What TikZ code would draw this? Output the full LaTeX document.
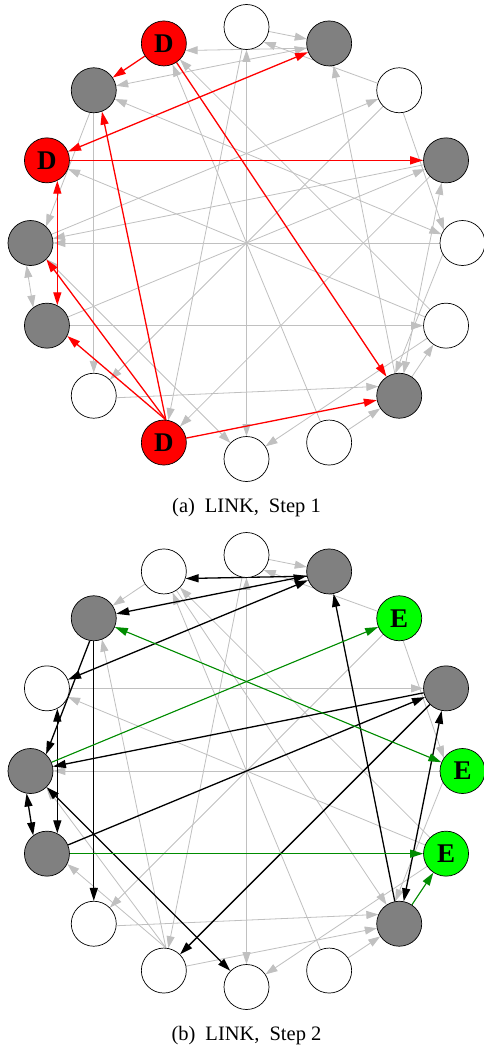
\documentclass[tikz,border=0pt]{standalone}
\usepackage{fontspec}
\setmainfont{Liberation Serif}
\usetikzlibrary{arrows.meta,backgrounds}
\definecolor{lg}{RGB}{192,192,192}
\definecolor{dg}{RGB}{0,140,0}
\begin{document}
\begin{tikzpicture}[x=1pt,y=-1pt,
  nd/.style={circle,draw=black,line width=0.7pt,minimum size=45pt,inner sep=0pt,
    font=\fontsize{27}{27}\selectfont\bfseries},
  wn/.style={nd,fill=white},
  gn/.style={nd,fill=gray},
  dn/.style={nd,fill=red},
  en/.style={nd,fill=green},
  >={Triangle[length=12pt,width=8pt]},
  ge/.style={draw=lg,line width=0.8pt},
  re/.style={draw=red,line width=1.3pt,>={Triangle[length=13pt,width=8pt]}},
  be/.style={draw=black,line width=1.3pt,>={Triangle[length=13pt,width=8pt]}},
  gre/.style={draw=dg,fill=dg,line width=1.1pt,>={Triangle[length=13pt,width=8pt]}},
  captxt/.style={anchor=base,font=\fontsize{20.5}{20.5}\selectfont}
]
\useasboundingbox (0,0) rectangle (484,1049);
% ---------- panel (a)
\begin{scope}[shift={(246.5,243)}]
\node[wn] (a0)  at (-90:216) {};
\node[gn] (a1)  at (-67.5:216) {};
\node[wn] (a2)  at (-45:216) {};
\node[gn] (a3)  at (-22.5:216) {};
\node[wn] (a4)  at (0:216) {};
\node[wn] (a5)  at (22.5:216) {};
\node[gn] (a6)  at (45:216) {};
\node[wn] (a7)  at (67.5:216) {};
\node[wn] (a8)  at (90:216) {};
\node[dn] (a9)  at (112.5:216) {D};
\node[wn] (a10) at (135:216) {};
\node[gn] (a11) at (157.5:216) {};
\node[gn] (a12) at (180:216) {};
\node[dn] (a13) at (202.5:216) {D};
\node[gn] (a14) at (225:216) {};
\node[dn] (a15) at (247.5:216) {D};
\end{scope}
% ---------- panel (b)
\begin{scope}[shift={(246.5,771)}]
\node[wn] (b0)  at (-90:216) {};
\node[gn] (b1)  at (-67.5:216) {};
\node[en] (b2)  at (-45:216) {E};
\node[gn] (b3)  at (-22.5:216) {};
\node[en] (b4)  at (0:216) {E};
\node[en] (b5)  at (22.5:216) {E};
\node[gn] (b6)  at (45:216) {};
\node[wn] (b7)  at (67.5:216) {};
\node[wn] (b8)  at (90:216) {};
\node[wn] (b9)  at (112.5:216) {};
\node[wn] (b10) at (135:216) {};
\node[gn] (b11) at (157.5:216) {};
\node[gn] (b12) at (180:216) {};
\node[wn] (b13) at (202.5:216) {};
\node[gn] (b14) at (225:216) {};
\node[wn] (b15) at (247.5:216) {};
\end{scope}
\node[captxt] (capa) at (246.5,512.5) {(a)\hspace{10pt}LINK,\hspace{10pt}Step 1};
\node[captxt] (capb) at (246.5,1040.5) {(b)\hspace{10pt}LINK,\hspace{10pt}Step 2};
\begin{pgfonlayer}{background}
\fill[white] (0,0) rectangle (484,1049);
% edges gray in both panels
\foreach \p in {a,b}{
  \foreach \s/\t in {0/1,0/9,2/10,4/12,5/15,5/8,5/13,7/15,7/6}
    \draw[ge,->] (\p\s) -- (\p\t);
  \draw[ge,<->] (\p0) -- (\p8);
  \draw[ge,->] (\p2.162) -- (\p0.-41);
  \draw[ge,->] (\p2.-80) -- (\p4.145);
  \draw[ge,->] (\p4.210) -- (\p6.100);
  \draw[ge,->] (\p10.-5) -- (\p6.156);
}
% panel (a) gray edges
\foreach \s/\t in {3/12,3/9,6/1,6/5,11/3,11/5,12/2,14/10}
  \draw[ge,->] (a\s) -- (a\t);
\draw[ge,->] (a1.192) -- (a15.-18);
\draw[ge,->] (a14.-100) -- (a12.47);
\foreach \s/\t in {1/14,3/6,12/8,14/4}
  \draw[ge,<->] (a\s) -- (a\t);
\draw[ge,<->] (a12.-100) -- (a11.127);
% panel (a) red edges
\foreach \s/\t in {13/3,15/14,15/6,9/6}
  \draw[re,->] (a\s) -- (a\t);
\draw[re,->] (a9.85) -- (a14.-69);
\draw[re,->] (a9.85) -- (a12.-46);
\draw[re,->] (a9.85) -- (a11.-27);
\draw[re,<->] (a13) -- (a1);
\draw[re,<->] (a13.-63) -- (a11.63);
% panel (b) gray edges
\foreach \s/\t in {13/3,15/14,15/6,9/6}
  \draw[ge,->] (b\s) -- (b\t);
\draw[ge,->] (b9.85) -- (b14.-69);
\draw[ge,->] (b9.85) -- (b12.-46);
\draw[ge,->] (b9.85) -- (b11.-27);
% panel (b) black edges
\foreach \s/\t in {3/12,3/9,6/1,11/3,14/10}
  \draw[be,->] (b\s) -- (b\t);
\draw[be,->] (b1.192) -- (b15.-18);
\draw[be,->] (b14.-100) -- (b12.47);
\foreach \s/\t in {1/14,1/13,3/6,12/8}
  \draw[be,<->] (b\s) -- (b\t);
\draw[be,<->] (b12.-100) -- (b11.127);
\draw[be,<->] (b13.-63) -- (b11.63);
% panel (b) green edges
\foreach \s/\t in {12/2,6/5,11/5}
  \draw[gre,->] (b\s) -- (b\t);
\draw[gre,<->] (b14) -- (b4);
\end{pgfonlayer}
\end{tikzpicture}
\end{document}
